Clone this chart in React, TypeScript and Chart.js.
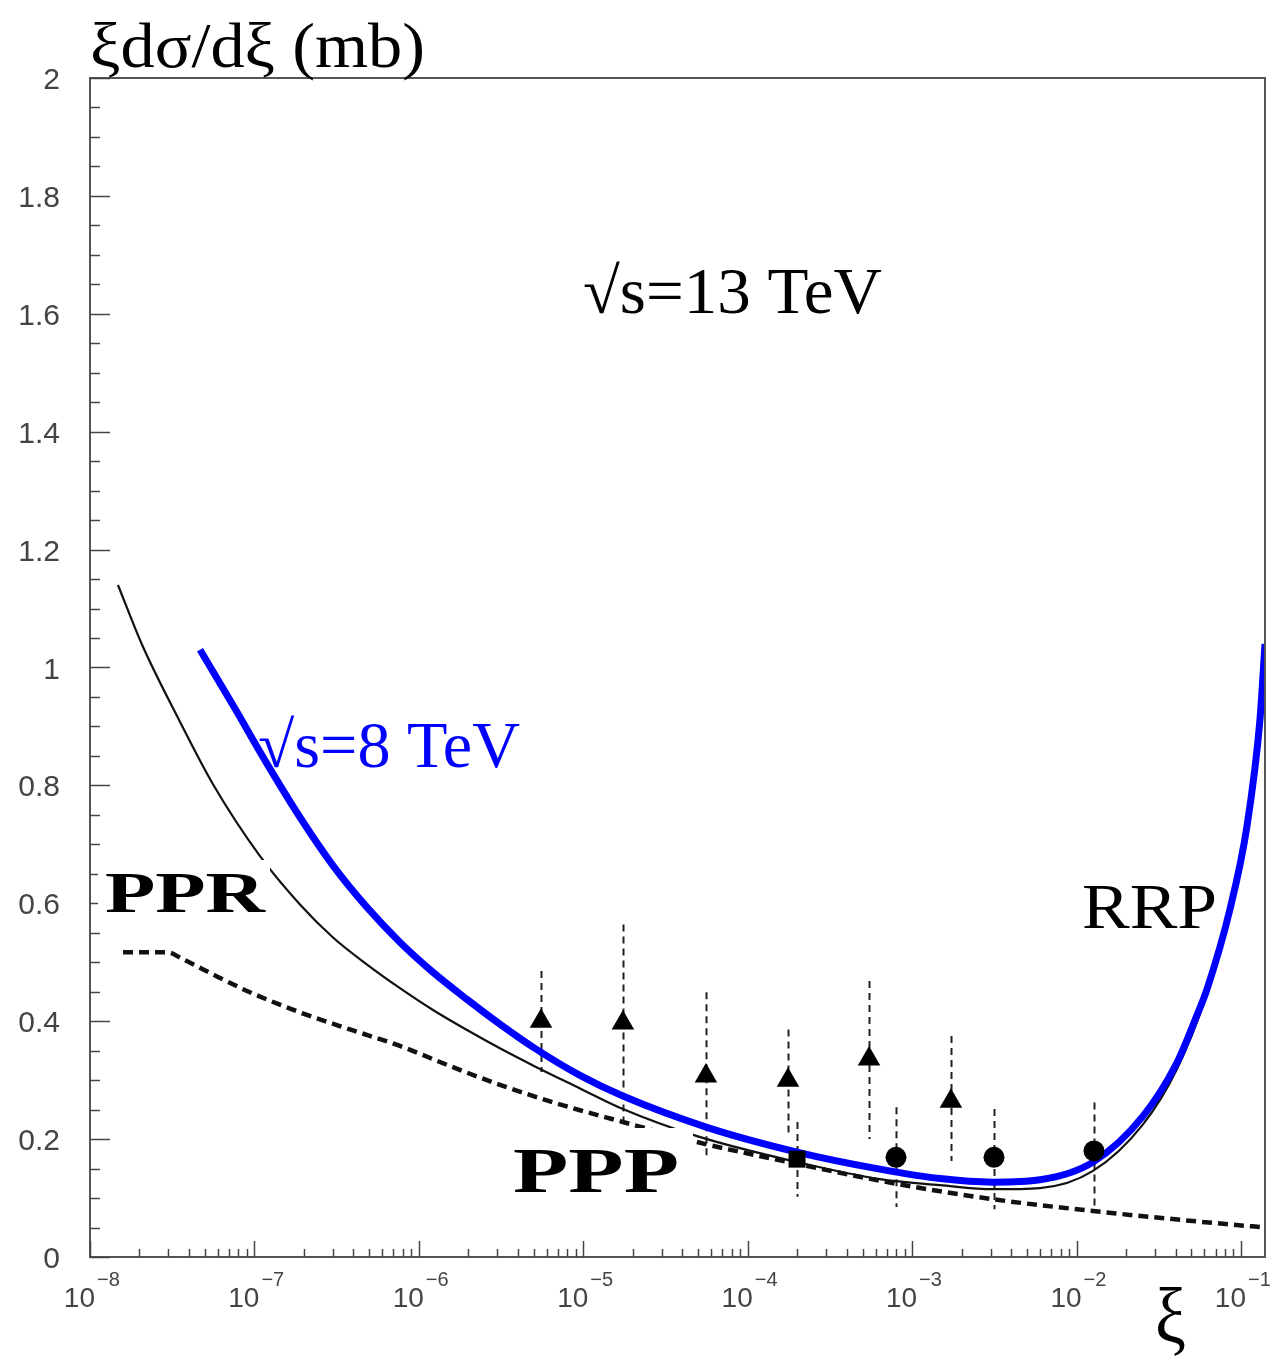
import React, { useEffect, useRef } from 'react';
import { Chart, registerables } from 'chart.js';

Chart.register(...registerables);

// ---- data (x given as log10(xi)) ----
const blueLogXi = [-7.331, -7.13, -6.924, -6.723, -6.522, -6.315, -6.115, -5.914, -5.707, -5.507, -5.306, -5.02, -4.759, -4.248, -3.7, -3.196, -2.831, -2.508, -2.222, -1.9, -1.596, -1.389, -1.268, -1.207, -1.067, -0.964, -0.885, -0.854];
const blueY = [1.03, 0.936, 0.837, 0.746, 0.664, 0.593, 0.534, 0.483, 0.437, 0.395, 0.356, 0.308, 0.273, 0.22, 0.178, 0.149, 0.133, 0.127, 0.131, 0.161, 0.239, 0.33, 0.41, 0.454, 0.59, 0.73, 0.91, 1.04];

const blackLogXi = [-7.83, -7.684, -7.453, -7.252, -6.966, -6.723, -6.522, -6.315, -6.115, -5.914, -5.707, -5.507, -5.306, -5.02, -4.759, -4.308, -3.7, -3.196, -2.831, -2.508, -2.222, -1.9, -1.596, -1.389, -1.207, -1.067, -0.964, -0.885, -0.854];
const blackY = [1.14, 1.039, 0.908, 0.802, 0.68, 0.598, 0.542, 0.496, 0.456, 0.419, 0.385, 0.354, 0.325, 0.286, 0.251, 0.205, 0.161, 0.132, 0.122, 0.115, 0.117, 0.146, 0.225, 0.319, 0.446, 0.581, 0.722, 0.903, 1.03];

const pppLogXi = [-7.799, -7.532, -7.434, -7.228, -7.027, -6.723, -6.419, -6.115, -5.811, -5.507, -5.202, -5.02, -4.759, -4.308, -3.7, -3.092, -2.508, -1.9, -1.292, -0.854];
const pppY = [0.517, 0.517, 0.505, 0.476, 0.449, 0.415, 0.386, 0.358, 0.324, 0.292, 0.264, 0.249, 0.229, 0.195, 0.158, 0.124, 0.098, 0.078, 0.061, 0.05];

const triLogXi = [-5.257, -4.759, -4.254, -3.755, -3.262, -2.764];
const triY = [0.4, 0.397, 0.307, 0.3, 0.336, 0.264];
const triHigh = [0.485, 0.564, 0.449, 0.386, 0.468, 0.375];
const triLow = [0.314, 0.22, 0.17, 0.205, 0.2, 0.163];

const circLogXi = [-3.098, -2.502, -1.894];
const circY = [0.169, 0.169, 0.18];
const circHigh = [0.254, 0.251, 0.262];
const circLow = [0.085, 0.081, 0.076];

const sqLogXi = [-3.7];
const sqY = [0.166];
const sqHigh = [0.229];
const sqLow = [0.102];

const xMajorExps = [-8, -7, -6, -5, -4, -3, -2, -1];
const xMinorMult = [2, 3, 4, 5, 6, 7, 8, 9];
const yTickLabels = ['0', '0.2', '0.4', '0.6', '0.8', '1', '1.2', '1.4', '1.6', '1.8', '2'];
const yMinorStep = 0.05;

const W = 1278;
const H = 1362;

const pts = (lx: number[], ys: number[]) => lx.map((e, i) => ({ x: Math.pow(10, e), y: ys[i] }));

function drawFit(ctx: CanvasRenderingContext2D, text: string, x: number, base: number, font: string, color: string, targetW?: number) {
  ctx.save();
  ctx.font = font;
  const w = ctx.measureText(text).width;
  const sx = targetW ? targetW / w : 1;
  ctx.translate(x, base);
  ctx.scale(sx, 1);
  ctx.fillStyle = color;
  ctx.textAlign = 'left';
  ctx.textBaseline = 'alphabetic';
  ctx.fillText(text, 0, 0);
  ctx.restore();
}

export default function App() {
  const ref = useRef<HTMLCanvasElement>(null);

  useEffect(() => {
    const canvas = ref.current;
    if (!canvas) return;

    const errorBars = [
      { xs: triLogXi, lo: triLow, hi: triHigh },
      { xs: circLogXi, lo: circLow, hi: circHigh },
      { xs: sqLogXi, lo: sqLow, hi: sqHigh },
    ];

    const rootPlugin = {
      id: 'rootStyle',
      beforeDatasetsDraw(chart: any) {
        const ctx: CanvasRenderingContext2D = chart.ctx;
        const xs = chart.scales.x;
        const ys = chart.scales.y;
        ctx.save();
        ctx.strokeStyle = '#222';
        ctx.lineWidth = 2;
        ctx.setLineDash([7, 5]);
        errorBars.forEach((g) => {
          g.xs.forEach((e, i) => {
            const px = Math.round(xs.getPixelForValue(Math.pow(10, e))) + 0.5;
            ctx.beginPath();
            ctx.moveTo(px, ys.getPixelForValue(g.hi[i]));
            ctx.lineTo(px, ys.getPixelForValue(g.lo[i]));
            ctx.stroke();
          });
        });
        ctx.restore();
      },
      afterDatasetsDraw(chart: any) {
        const ctx: CanvasRenderingContext2D = chart.ctx;
        const xs = chart.scales.x;
        const ys = chart.scales.y;
        const a = chart.chartArea;
        ctx.save();
        // frame
        ctx.strokeStyle = '#555';
        ctx.lineWidth = 2;
        ctx.setLineDash([]);
        ctx.strokeRect(a.left, a.top, a.right - a.left, a.bottom - a.top);
        // x ticks
        ctx.lineWidth = 1.5;
        ctx.strokeStyle = '#444';
        xMajorExps.forEach((e) => {
          const v = Math.pow(10, e);
          if (v <= xs.max) {
            const px = Math.round(xs.getPixelForValue(v)) + 0.5;
            ctx.beginPath();
            ctx.moveTo(px, a.bottom);
            ctx.lineTo(px, a.bottom - 16);
            ctx.stroke();
          }
          xMinorMult.forEach((m) => {
            const mv = m * v;
            if (mv < xs.max) {
              const mx = Math.round(xs.getPixelForValue(mv)) + 0.5;
              ctx.beginPath();
              ctx.moveTo(mx, a.bottom);
              ctx.lineTo(mx, a.bottom - 8);
              ctx.stroke();
            }
          });
        });
        // y ticks
        for (let v = 0; v <= 2.0001; v += yMinorStep) {
          const py = Math.round(ys.getPixelForValue(v)) + 0.5;
          const major = Math.abs(v / 0.2 - Math.round(v / 0.2)) < 1e-6;
          ctx.beginPath();
          ctx.moveTo(a.left, py);
          ctx.lineTo(a.left + (major ? 20 : 10), py);
          ctx.stroke();
        }
        // y tick labels
        ctx.fillStyle = '#444';
        ctx.font = '30px "Liberation Sans", Arial, sans-serif';
        ctx.textAlign = 'right';
        ctx.textBaseline = 'alphabetic';
        yTickLabels.forEach((t) => {
          const py = ys.getPixelForValue(parseFloat(t));
          ctx.fillText(t, 60, py + 11);
        });
        // x tick labels
        xMajorExps.forEach((e) => {
          const px = xs.getPixelForValue(Math.pow(10, e));
          ctx.font = '28px "Liberation Sans", Arial, sans-serif';
          ctx.textAlign = 'right';
          ctx.fillText('10', px + 5, a.bottom + 50);
          ctx.font = '20px "Liberation Sans", Arial, sans-serif';
          ctx.textAlign = 'left';
          ctx.fillText('\u2212' + String(-e), px + 7, a.bottom + 29);
        });
        ctx.restore();

        // annotations
        const serif = '"Liberation Serif", "Times New Roman", serif';
        drawFit(ctx, 'ξdσ/dξ (mb)', 90, 67, `64px ${serif}`, '#000', 335);
        drawFit(ctx, 'ξ', 1155, 1342, `78px ${serif}`, '#000', 31);
        drawFit(ctx, '√s=13 TeV', 583, 313, `65px ${serif}`, '#000', 299);
        drawFit(ctx, '√s=8 TeV', 258, 767, `65px ${serif}`, '#0000ff', 262);
        ctx.save();
        ctx.fillStyle = '#fff';
        ctx.fillRect(98, 860, 172, 60);
        ctx.fillRect(503, 1128, 190, 76);
        ctx.restore();
        drawFit(ctx, 'PPR', 105, 912, `bold 56px ${serif}`, '#000', 160);
        drawFit(ctx, 'PPP', 513, 1192, `bold 64px ${serif}`, '#000', 166);
        drawFit(ctx, 'RRP', 1082, 928, `64px ${serif}`, '#000', 135);
      },
    };

    const chart = new Chart(canvas, {
      type: 'scatter',
      data: {
        datasets: [
          {
            label: 'triangles',
            data: pts(triLogXi, triY),
            pointStyle: 'triangle',
            pointRadius: 13,
            backgroundColor: '#000',
            borderColor: '#000',
            borderWidth: 0,
            showLine: false,
            order: 0,
          },
          {
            label: 'circles',
            data: pts(circLogXi, circY),
            pointStyle: 'circle',
            pointRadius: 10.5,
            backgroundColor: '#000',
            borderColor: '#000',
            borderWidth: 0,
            showLine: false,
            order: 0,
          },
          {
            label: 'square',
            data: pts(sqLogXi, sqY),
            pointStyle: 'rect',
            pointRadius: 12,
            backgroundColor: '#000',
            borderColor: '#000',
            borderWidth: 0,
            showLine: false,
            order: 0,
          },
          {
            label: '8 TeV',
            data: pts(blueLogXi, blueY),
            showLine: true,
            borderColor: '#0000ff',
            borderWidth: 7,
            pointRadius: 0,
            cubicInterpolationMode: 'monotone',
            order: 1,
          },
          {
            label: '13 TeV',
            data: pts(blackLogXi, blackY),
            showLine: true,
            borderColor: '#111',
            borderWidth: 2.2,
            pointRadius: 0,
            cubicInterpolationMode: 'monotone',
            order: 2,
          },
          {
            label: 'PPP',
            data: pts(pppLogXi, pppY),
            showLine: true,
            borderColor: '#111',
            borderWidth: 4.5,
            borderDash: [10, 6],
            pointRadius: 0,
            cubicInterpolationMode: 'monotone',
            order: 3,
          },
        ],
      } as any,
      options: {
        responsive: false,
        animation: false,
        devicePixelRatio: 1,
        layout: { padding: { left: 90, right: W - 1265, top: 78, bottom: H - 1257 } },
        scales: {
          x: { type: 'logarithmic', min: 1e-8, max: 0.14, display: false },
          y: { type: 'linear', min: 0, max: 2, display: false },
        },
        plugins: {
          legend: { display: false },
          tooltip: { enabled: false },
        },
        events: [],
      } as any,
      plugins: [rootPlugin],
    });

    return () => chart.destroy();
  }, []);

  return (
    <div style={{ position: 'absolute', left: 0, top: 0, width: W, height: H, background: '#fff' }}>
      <canvas ref={ref} width={W} height={H} style={{ display: 'block', width: W, height: H }} />
    </div>
  );
}
